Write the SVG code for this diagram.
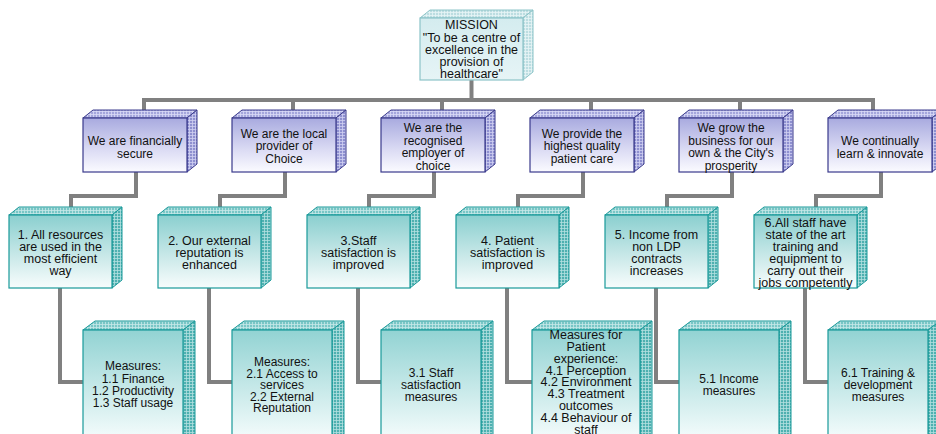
<svg xmlns="http://www.w3.org/2000/svg" width="936" height="434" viewBox="0 0 936 434">
<defs>
  <pattern id="gridP" width="3" height="3" patternUnits="userSpaceOnUse"><rect width="3" height="3" fill="#8e90d0"/><path d="M0,0.5H3M0.5,0V3" stroke="#d0d1f2" stroke-width="0.8"/></pattern>
  <pattern id="gridPt" width="3" height="3" patternUnits="userSpaceOnUse"><rect width="3" height="3" fill="#a4a6dc"/><path d="M0,0.5H3M0.5,0V3" stroke="#dadbf6" stroke-width="0.8"/></pattern>
  <pattern id="gridT" width="3" height="3" patternUnits="userSpaceOnUse"><rect width="3" height="3" fill="#4eb0b0"/><path d="M0,0.5H3M0.5,0V3" stroke="#b2e0e0" stroke-width="0.8"/></pattern>
  <pattern id="gridTt" width="3" height="3" patternUnits="userSpaceOnUse"><rect width="3" height="3" fill="#78c6c6"/><path d="M0,0.5H3M0.5,0V3" stroke="#c6e9e9" stroke-width="0.8"/></pattern>
  <pattern id="gridM" width="3" height="3" patternUnits="userSpaceOnUse"><rect width="3" height="3" fill="#bcdde1"/><path d="M0,0.5H3M0.5,0V3" stroke="#e8f5f6" stroke-width="0.8"/></pattern>
  <linearGradient id="gP" x1="0" y1="0" x2="0" y2="1"><stop offset="0" stop-color="#a8aadf"/><stop offset="0.6" stop-color="#dcdcf4"/><stop offset="1" stop-color="#fbfbff"/></linearGradient>
  <linearGradient id="gT" x1="0" y1="0" x2="0" y2="1"><stop offset="0" stop-color="#8acfcf"/><stop offset="0.6" stop-color="#cdeaea"/><stop offset="1" stop-color="#f8fdfd"/></linearGradient>
  <linearGradient id="gR" x1="0" y1="0" x2="0" y2="1"><stop offset="0" stop-color="#92d3d3"/><stop offset="0.85" stop-color="#eef9f9"/><stop offset="1" stop-color="#ffffff"/></linearGradient>
  <linearGradient id="gM" x1="0" y1="0" x2="0" y2="1"><stop offset="0" stop-color="#d4ecef"/><stop offset="1" stop-color="#e6f4f6"/></linearGradient>
</defs>
<style>
  .conn path{fill:none;stroke:#808080;stroke-width:4}
  text{font-family:"Liberation Sans",Arial,sans-serif;font-size:12px;fill:#111;text-anchor:middle}
  .t text{font-size:12.5px}
  .m text{font-size:12.5px}
  #meas4 text{font-size:12.5px}
  .p .front{fill:url(#gP);stroke:#3a3a8c;stroke-width:1.2}
  .p .side{fill:url(#gridP);stroke:#3a3a8c;stroke-width:1}
  .p .top{fill:url(#gridPt);stroke:#3a3a8c;stroke-width:1}
  .t .front,.r .front{stroke:#1a9a9a;stroke-width:1.2}
  .t .front{fill:url(#gT)}
  .r .front{fill:url(#gR)}
  .t .side,.r .side{fill:url(#gridT);stroke:#1a9a9a;stroke-width:1}
  .t .top,.r .top{fill:url(#gridTt);stroke:#1a9a9a;stroke-width:1}
  .m .front{fill:url(#gM);stroke:#8cc4c8;stroke-width:1.2}
  .m .side,.m .top{fill:url(#gridM);stroke:#8cc4c8;stroke-width:1}
</style>

<g id="connectors" class="conn">
  <path d="M471.5,80V100"/>
  <path d="M142,100H875"/>
  <path d="M144,100V118M293,100V118M442,100V118M591,100V118M740,100V118M873,100V118"/>
  <path d="M136,172V196H71V215"/>
  <path d="M285,172V196H220V215"/>
  <path d="M434,172V196H369V215"/>
  <path d="M583,172V196H518V215"/>
  <path d="M732,172V196H667V215"/>
  <path d="M881,172V196H816V215"/>
  <path d="M60,288V382H83"/>
  <path d="M209,288V382H232"/>
  <path d="M358,288V382H381"/>
  <path d="M507,288V382H532"/>
  <path d="M656,288V382H679"/>
  <path d="M805,288V382H828"/>
</g>

<g id="mission" class="m">
  <polygon class="top" points="420,18 430,10 533,10 523,18"/>
  <polygon class="side" points="523,18 533,10 533,72 523,80"/>
  <rect class="front" x="420" y="18" width="103" height="62"/>
  <text x="471.5" y="29">MISSION</text>
  <text x="471.5" y="41.5">"To be a centre of</text>
  <text x="471.5" y="53.5">excellence in the</text>
  <text x="471.5" y="65.5">provision of</text>
  <text x="471.5" y="78">healthcare"</text>
</g>

<g id="goal1" class="p">
  <polygon class="top" points="83,118 93,110 197,110 187,118"/>
  <polygon class="side" points="187,118 197,110 197,164 187,172"/>
  <rect class="front" x="83" y="118" width="104" height="54"/>
  <text x="135" y="145">We are financially</text>
  <text x="135" y="158">secure</text>
</g>
<g id="goal2" class="p">
  <polygon class="top" points="232,118 242,110 346,110 336,118"/>
  <polygon class="side" points="336,118 346,110 346,164 336,172"/>
  <rect class="front" x="232" y="118" width="104" height="54"/>
  <text x="284" y="137.5">We are the local</text>
  <text x="284" y="150">provider of</text>
  <text x="284" y="162.5">Choice</text>
</g>
<g id="goal3" class="p">
  <polygon class="top" points="381,118 391,110 495,110 485,118"/>
  <polygon class="side" points="485,118 495,110 495,164 485,172"/>
  <rect class="front" x="381" y="118" width="104" height="54"/>
  <text x="433" y="132">We are the</text>
  <text x="433" y="144.5">recognised</text>
  <text x="433" y="157">employer of</text>
  <text x="433" y="169.5">choice</text>
</g>
<g id="goal4" class="p">
  <polygon class="top" points="530,118 540,110 644,110 634,118"/>
  <polygon class="side" points="634,118 644,110 644,164 634,172"/>
  <rect class="front" x="530" y="118" width="104" height="54"/>
  <text x="582" y="137.5">We provide the</text>
  <text x="582" y="150">highest quality</text>
  <text x="582" y="162.5">patient care</text>
</g>
<g id="goal5" class="p">
  <polygon class="top" points="679,118 689,110 793,110 783,118"/>
  <polygon class="side" points="783,118 793,110 793,164 783,172"/>
  <rect class="front" x="679" y="118" width="104" height="54"/>
  <text x="731" y="132">We grow the</text>
  <text x="731" y="144.5">business for our</text>
  <text x="731" y="157">own &amp; the City's</text>
  <text x="731" y="169.5">prosperity</text>
</g>
<g id="goal6" class="p">
  <polygon class="top" points="828,118 838,110 942,110 932,118"/>
  <polygon class="side" points="932,118 942,110 942,164 932,172"/>
  <rect class="front" x="828" y="118" width="104" height="54"/>
  <text x="880" y="145">We continually</text>
  <text x="880" y="158">learn &amp; innovate</text>
</g>

<g id="obj1" class="t">
  <polygon class="top" points="9,215 19,207 122,207 112,215"/>
  <polygon class="side" points="112,215 122,207 122,280 112,288"/>
  <rect class="front" x="9" y="215" width="103" height="73"/>
  <text x="60.5" y="239">1. All resources</text>
  <text x="60.5" y="251">are used in the</text>
  <text x="60.5" y="263">most efficient</text>
  <text x="60.5" y="275">way</text>
</g>
<g id="obj2" class="t">
  <polygon class="top" points="158,215 168,207 271,207 261,215"/>
  <polygon class="side" points="261,215 271,207 271,280 261,288"/>
  <rect class="front" x="158" y="215" width="103" height="73"/>
  <text x="209.5" y="245">2. Our external</text>
  <text x="209.5" y="257">reputation is</text>
  <text x="209.5" y="269">enhanced</text>
</g>
<g id="obj3" class="t">
  <polygon class="top" points="307,215 317,207 420,207 410,215"/>
  <polygon class="side" points="410,215 420,207 420,280 410,288"/>
  <rect class="front" x="307" y="215" width="103" height="73"/>
  <text x="358.5" y="245">3.Staff</text>
  <text x="358.5" y="257">satisfaction is</text>
  <text x="358.5" y="269">improved</text>
</g>
<g id="obj4" class="t">
  <polygon class="top" points="456,215 466,207 569,207 559,215"/>
  <polygon class="side" points="559,215 569,207 569,280 559,288"/>
  <rect class="front" x="456" y="215" width="103" height="73"/>
  <text x="507.5" y="245">4. Patient</text>
  <text x="507.5" y="257">satisfaction is</text>
  <text x="507.5" y="269">improved</text>
</g>
<g id="obj5" class="t">
  <polygon class="top" points="605,215 615,207 718,207 708,215"/>
  <polygon class="side" points="708,215 718,207 718,280 708,288"/>
  <rect class="front" x="605" y="215" width="103" height="73"/>
  <text x="656.5" y="239">5. Income from</text>
  <text x="656.5" y="251">non LDP</text>
  <text x="656.5" y="263">contracts</text>
  <text x="656.5" y="275">increases</text>
</g>
<g id="obj6" class="t">
  <polygon class="top" points="754,215 764,207 867,207 857,215"/>
  <polygon class="side" points="857,215 867,207 867,280 857,288"/>
  <rect class="front" x="754" y="215" width="103" height="73"/>
  <text x="805.5" y="227">6.All staff have</text>
  <text x="805.5" y="239">state of the art</text>
  <text x="805.5" y="251">training and</text>
  <text x="805.5" y="263">equipment to</text>
  <text x="805.5" y="275">carry out their</text>
  <text x="805.5" y="287">jobs competently</text>
</g>

<g id="meas1" class="r">
  <polygon class="top" points="83,330 95,321 195,321 183,330"/>
  <polygon class="side" points="183,330 195,321 195,441 183,450"/>
  <rect class="front" x="83" y="330" width="100" height="120"/>
  <text x="133" y="370">Measures:</text>
  <text x="133" y="382.5">1.1 Finance</text>
  <text x="133" y="395">1.2 Productivity</text>
  <text x="133" y="407">1.3 Staff usage</text>
</g>
<g id="meas2" class="r">
  <polygon class="top" points="232,330 244,321 344,321 332,330"/>
  <polygon class="side" points="332,330 344,321 344,441 332,450"/>
  <rect class="front" x="232" y="330" width="100" height="120"/>
  <text x="282" y="366">Measures:</text>
  <text x="282" y="377.5">2.1 Access to</text>
  <text x="282" y="389">services</text>
  <text x="282" y="400.5">2.2 External</text>
  <text x="282" y="412">Reputation</text>
</g>
<g id="meas3" class="r">
  <polygon class="top" points="381,330 393,321 493,321 481,330"/>
  <polygon class="side" points="481,330 493,321 493,441 481,450"/>
  <rect class="front" x="381" y="330" width="100" height="120"/>
  <text x="431" y="377">3.1 Staff</text>
  <text x="431" y="389">satisfaction</text>
  <text x="431" y="401">measures</text>
</g>
<g id="meas4" class="r">
  <polygon class="top" points="532,330 544,321 652,321 640,330"/>
  <polygon class="side" points="640,330 652,321 652,441 640,450"/>
  <rect class="front" x="532" y="330" width="108" height="120"/>
  <text x="586" y="339">Measures for</text>
  <text x="586" y="351">Patient</text>
  <text x="586" y="362.5">experience:</text>
  <text x="586" y="374.5">4.1 Perception</text>
  <text x="586" y="386">4.2 Environment</text>
  <text x="586" y="398">4.3 Treatment</text>
  <text x="586" y="410">outcomes</text>
  <text x="586" y="421.5">4.4 Behaviour of</text>
  <text x="586" y="433.5">staff</text>
</g>
<g id="meas5" class="r">
  <polygon class="top" points="679,330 691,321 791,321 779,330"/>
  <polygon class="side" points="779,330 791,321 791,441 779,450"/>
  <rect class="front" x="679" y="330" width="100" height="120"/>
  <text x="729" y="383">5.1 Income</text>
  <text x="729" y="395">measures</text>
</g>
<g id="meas6" class="r">
  <polygon class="top" points="828,330 840,321 940,321 928,330"/>
  <polygon class="side" points="928,330 940,321 940,441 928,450"/>
  <rect class="front" x="828" y="330" width="100" height="120"/>
  <text x="878" y="377">6.1 Training &amp;</text>
  <text x="878" y="389">development</text>
  <text x="878" y="401">measures</text>
</g>
</svg>
